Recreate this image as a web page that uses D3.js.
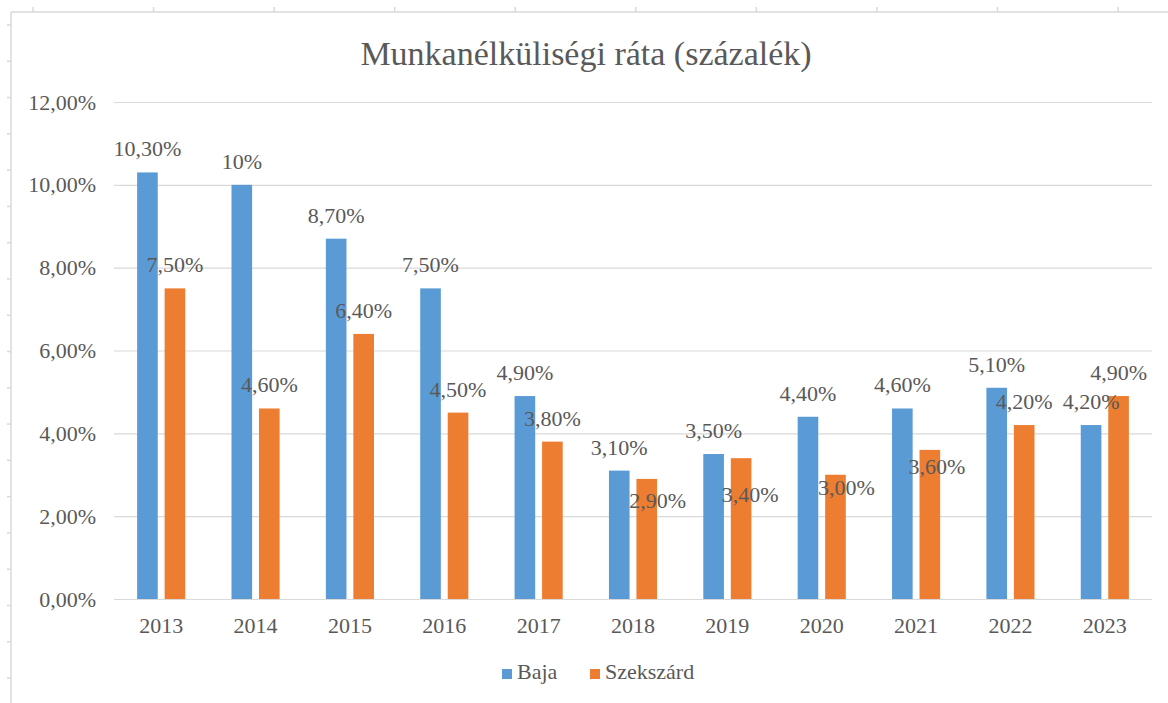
<!DOCTYPE html>
<html>
<head>
<meta charset="utf-8">
<script src="https://cdn.jsdelivr.net/npm/d3@7"></script>
<style>
  body { margin: 0; background: #fff; }
  svg text { font-family: "Liberation Serif", "Times New Roman", serif !important; fill: #595959; }
</style>
</head>
<body>
<div id="viz"></div>
<script>
// data (percent)
var years = ["2013", "2014", "2015", "2016", "2017", "2018", "2019", "2020", "2021", "2022", "2023"];
var baja = [10.3, 10, 8.7, 7.5, 4.9, 3.1, 3.5, 4.4, 4.6, 5.1, 4.2];
var szekszard = [7.5, 4.6, 6.4, 4.5, 3.8, 2.9, 3.4, 3.0, 3.6, 4.2, 4.9];
var seriesNames = ["Baja", "Szekszárd"];
var yTicks = [0, 2, 4, 6, 8, 10, 12];

// labels that were dragged by hand in the original [dx, dy]
var szekLabelNudge = [[0,0],[0,0],[0,0],[0,0],[0,0],[11,45],[9,60],[11,36],[7,40],[0,0],[0,0]];

var colors = {"Baja": "#5B9BD5", "Szekszárd": "#ED7D31"};
var serif = '"Liberation Serif", "Times New Roman", serif';

var width = 1168, height = 703;
var plot = {left: 114, right: 1152, top: 102, bottom: 599};

var svg = d3.select("#viz")
  .append("svg")
  .attr("width", width)
  .attr("height", height)
  .attr("font-family", serif);

// frame with little ruler ticks
svg.append("line")
  .attr("x1", 11).attr("x2", width).attr("y1", 12).attr("y2", 12)
  .attr("stroke", "#d9d9d9").attr("stroke-width", 1.5);
svg.append("line")
  .attr("x1", 11).attr("x2", 11).attr("y1", 12).attr("y2", height)
  .attr("stroke", "#d9d9d9").attr("stroke-width", 1.5);
svg.selectAll(".rtop")
  .data(d3.range(10))
  .enter().append("line")
  .attr("x1", i => 33 + i * 120.56).attr("x2", i => 33 + i * 120.56)
  .attr("y1", 7).attr("y2", 12)
  .attr("stroke", "#d9d9d9").attr("stroke-width", 1.5);
svg.selectAll(".rleft")
  .data(d3.range(19))
  .enter().append("line")
  .attr("x1", 7).attr("x2", 11)
  .attr("y1", i => 25 + i * 36.28).attr("y2", i => 25 + i * 36.28)
  .attr("stroke", "#d9d9d9").attr("stroke-width", 1.5);

// scales
var x0 = d3.scaleBand().domain(years).range([plot.left, plot.right]).paddingInner(0.49).paddingOuter(0.245);
var x1 = d3.scaleBand().domain(seriesNames).range([0, x0.bandwidth()]).paddingInner(0.25);
var y = d3.scaleLinear().domain([0, 12]).range([plot.bottom, plot.top]);

var fmt = d3.formatLocale({decimal: ",", thousands: " ", grouping: [3], currency: ["", ""]});
var fmt2 = fmt.format(".2f");
var labelText = (v, s) => (s === "Baja" && v === 10) ? "10%" : fmt2(v) + "%";

// title
svg.append("text")
  .attr("x", 586).attr("y", 65)
  .attr("text-anchor", "middle")
  .style("font-size", "34px")
  .text("Munkanélküliségi ráta (százalék)");

// gridlines + y labels
var yAxis = d3.axisLeft(y).tickValues(yTicks).tickSize(-(plot.right - plot.left)).tickPadding(18)
  .tickFormat(d => fmt2(d) + "%");
var gy = svg.append("g")
  .attr("transform", "translate(" + plot.left + ",0)")
  .call(yAxis)
  .attr("font-family", serif);
gy.select(".domain").remove();
gy.selectAll(".tick line").attr("stroke", "#d9d9d9").attr("stroke-width", 1.2);
gy.selectAll(".tick text").style("font-size", "22px").attr("fill", "#595959");

// x labels
var xAxis = d3.axisBottom(x0).tickSize(0).tickPadding(18);
var gx = svg.append("g")
  .attr("transform", "translate(0," + plot.bottom + ")")
  .call(xAxis)
  .attr("font-family", serif);
gx.select(".domain").remove();
gx.selectAll(".tick text").style("font-size", "22px").attr("fill", "#595959").attr("dy", "0.71em");

// bars
var rows = [];
years.forEach((yr, i) => {
  rows.push({year: yr, series: "Baja", value: baja[i], nudge: [0, 0]});
  rows.push({year: yr, series: "Szekszárd", value: szekszard[i], nudge: szekLabelNudge[i]});
});

svg.append("g").selectAll("rect")
  .data(rows)
  .enter().append("rect")
  .attr("x", d => x0(d.year) + x1(d.series))
  .attr("y", d => y(d.value))
  .attr("width", x1.bandwidth())
  .attr("height", d => y(0) - y(d.value))
  .attr("fill", d => colors[d.series]);

// data labels
svg.append("g").selectAll("text")
  .data(rows)
  .enter().append("text")
  .attr("x", d => x0(d.year) + x1(d.series) + x1.bandwidth() / 2 + d.nudge[0])
  .attr("y", d => y(d.value) - 16 + d.nudge[1])
  .attr("text-anchor", "middle")
  .style("font-size", "22px")
  .text(d => labelText(d.value, d.series));

// legend
var legend = svg.append("g");
var legendX = [502, 590];
seriesNames.forEach((s, i) => {
  legend.append("rect")
    .attr("x", legendX[i]).attr("y", 669)
    .attr("width", 10).attr("height", 10)
    .attr("fill", colors[s]);
  legend.append("text")
    .attr("x", legendX[i] + 15).attr("y", 679)
    .style("font-size", "22px")
    .text(s);
});
</script>
</body>
</html>
